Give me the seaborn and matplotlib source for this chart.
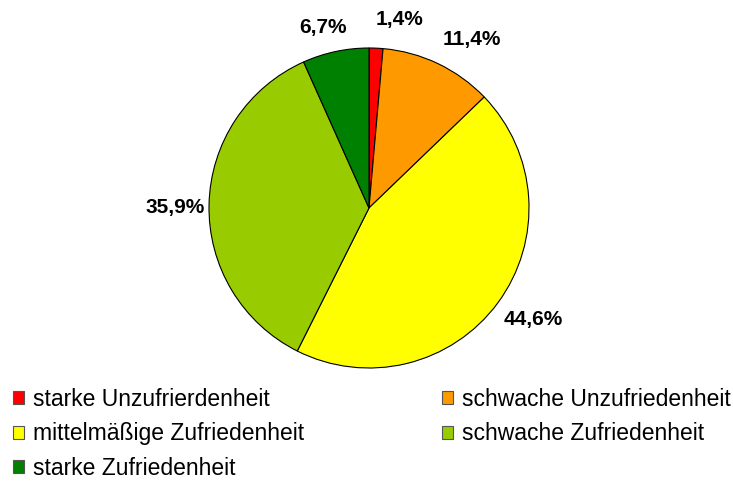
import matplotlib
matplotlib.use("Agg")
import matplotlib.pyplot as plt
import seaborn as sns
from matplotlib.patches import Patch

categories = ["starke Unzufrierdenheit", "schwache Unzufriedenheit",
              "mittelmäßige Zufriedenheit", "schwache Zufriedenheit",
              "starke Zufriedenheit"]
values = [1.4, 11.4, 44.6, 35.9, 6.7]
labels = ["1,4%", "11,4%", "44,6%", "35,9%", "6,7%"]
colors = ["#FF0000", "#FF9900", "#FFFF00", "#99CC00", "#008000"]
# label anchor positions (pie radius units)
label_pos = [(0.19, 1.175), (0.64, 1.05), (1.025, -0.70), (-1.21, 0.006), (-0.29, 1.125)]

sns.set_style("white")
plt.rcParams["font.family"] = ["Liberation Sans", "DejaVu Sans"]
plt.rcParams["text.color"] = "black"

W, H = 733, 482
fig = plt.figure(figsize=(W / 100, H / 100), dpi=100)
cx, cy, r = 369, 208, 160
ax = fig.add_axes([(cx - r) / W, (H - cy - r) / H, 2 * r / W, 2 * r / H])
wedges, _ = ax.pie(values, colors=colors, startangle=90, counterclock=False,
                   radius=1, wedgeprops=dict(edgecolor="black", linewidth=0.8))
ax.set_xlim(-1, 1)
ax.set_ylim(-1, 1)
ax.set_aspect("equal")
ax.axis("off")
for lab, (x, y) in zip(labels, label_pos):
    ax.text(x, y, lab, ha="center", va="center", fontsize=15, fontweight="bold",
            color="black", clip_on=False)

order = [0, 2, 4, 1, 3]
handles = [Patch(facecolor=colors[i], edgecolor="#555555", linewidth=0.8) for i in order]
labs = [categories[i] for i in order]
fig.legend(handles, labs, ncol=2, loc="upper left", bbox_to_anchor=(13 / W, 1 - 388 / H),
           frameon=False, fontsize=16.5, handlelength=0.5, handleheight=0.5,
           handletextpad=0.37, labelspacing=0.5, columnspacing=6.0, borderaxespad=0,
           borderpad=0, labelcolor="black")
fig.savefig("out.png", dpi=100)
